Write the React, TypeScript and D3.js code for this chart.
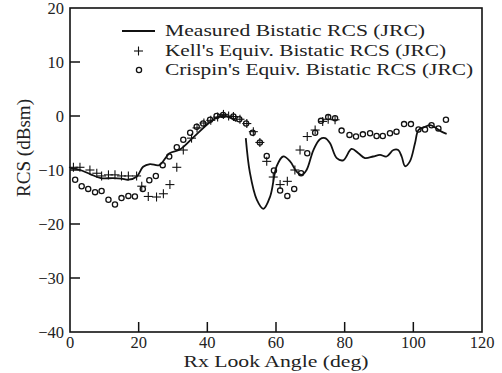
import React from "react";
import * as d3 from "d3";

const W = 502;
const H = 373;

// Measured Bistatic RCS (JRC) — null marks a gap in the trace
const measuredAngles = [0, 3, 6, 9, 12.5, 15, 17, 19.5, 21.3, 23.3, 26, 29, 32, 36, 40.8, 43, 44.6, 47, 48.5, null,
  51.2, 52.4, 54.4, 56.3, 58.3, 60.2, 62.1, 64.1, 66, 67.5, 68.9, 70.9, 72.8, 74.3, 75.7, 77.7, 79.6, 82, 84, 85.9,
  88.3, 90.3, 92.2, 94.2, 95.6, 96.6, 97.6, 99, 100.5, 101.5, 103.4, 104.9, 106.8, 108.2, 109.7];
const measuredValues = [-9.6, -10, -10.8, -11.5, -11.5, -11.6, -11.8, -11.2, -9.4, -8.9, -9.1, -6.9, -6.2, -3.9, -1.1, -0.2, 0, -0.4, -1.0, null,
  -4.1, -10.5, -15.5, -17.2, -14.9, -9.3, -7.5, -8.4, -10.3, -10.9, -10, -6.3, -4.3, -4.1, -5, -7.8, -8.2, -6.1, -6.9, -7.8,
  -7.5, -7.2, -7.5, -6.3, -6.3, -7.5, -9.3, -8.4, -5, -2.6, -2, -1.7, -2.3, -2.9, -3.3];

// Kell's Equiv. Bistatic RCS (JRC)
const kellAngles = [1, 2.9, 5.8, 7.8, 9.2, 11.2, 13.1, 15, 17, 19.4, 20.9, 22.8, 25.2, 27.2, 29.1, 31.1, 33, 35.4,
  37, 39, 41, 43, 44.7, 46.2, 47.6, 49.5, 51.5, 53.4, 55.3, 57.3, 59.2, 61.2, 63.3, 65.5, 67, 69.1, 71.4, 73.6, 75.2, 77.2];
const kellValues = [-9.5, -9.5, -10, -10.6, -11.1, -10.9, -10.9, -11.1, -11.1, -11.1, -13, -14.9, -15, -14.4, -12.7, -9.5, -6.3, -4.1,
  -2.2, -1.3, -0.8, -0.2, 0.3, 0, -0.1, -0.6, -1.4, -2.9, -4.9, -8.4, -11.3, -12.7, -12.1, -10, -6.3, -3.8, -2.6, -1, -0.6, -0.7];

// Crispin's Equiv. Bistatic RCS (JRC)
const crispinAngles = [1.5, 3.4, 5.3, 7.3, 9.2, 11.2, 13.1, 15, 17, 18.9, 21.2, 23.1, 25, 27, 28.9, 31.1, 33, 35, 36.9, 38.8,
  40.8, 42.7, 44.6, 47.6, 49.3, 51.3, 53.2, 55.3, 57.3, 59.4, 61.2, 63.3, 65.3, 67.3, 69.1, 71.4, 73.1, 75.2, 77.2, 79.1,
  81.4, 83.3, 85.3, 87.4, 89.3, 91.1, 93.2, 95.1, 97.3, 99.3, 101.5, 103.4, 105.3, 107.3, 109.5];
const crispinValues = [-11.8, -13, -13.5, -14.1, -13.9, -15.5, -16.4, -15.2, -14.8, -14.9, -13.5, -11.9, -11.1, -9.1, -7.5, -5.8, -4.4, -3.1, -2, -1.4,
  -0.7, 0, 0.2, -0.1, -0.6, -1.4, -3.1, -4.9, -7.4, -10.1, -13.8, -14.8, -13.5, -10.6, -6.9, -3.1, -0.9, -0.2, -0.4, -2.7,
  -3.5, -3.8, -3.4, -3.2, -3.7, -3.7, -3.2, -2.9, -1.5, -1.5, -2.5, -2.5, -1.7, -2.3, -0.7];

const xTicks = [0, 20, 40, 60, 80, 100, 120];
const yTicks = [-40, -30, -20, -10, 0, 10, 20];
const legendLabels = [
  "Measured Bistatic RCS  (JRC)",
  "Kell's Equiv. Bistatic RCS  (JRC)",
  "Crispin's Equiv. Bistatic RCS  (JRC)",
];

const FONT = "'Liberation Serif', 'DejaVu Serif', serif";

export default function App() {
  const m = { left: 70, right: 482, top: 8, bottom: 332 };
  const x = d3.scaleLinear().domain([0, 120]).range([m.left, m.right]);
  const y = d3.scaleLinear().domain([-40, 20]).range([m.bottom, m.top]);

  const measured = measuredAngles.map((a, i) => [a, measuredValues[i]] as [number | null, number | null]);
  const line = d3
    .line<[number | null, number | null]>()
    .defined((d) => d[0] !== null && d[1] !== null)
    .x((d) => x(d[0] as number))
    .y((d) => y(d[1] as number))
    .curve(d3.curveCatmullRom.alpha(0.5));

  const fmt = (v: number) => (v < 0 ? "\u2212" + Math.abs(v) : String(v));
  const tickLen = 10;
  const ps = 4.5;

  return (
    <svg width={W} height={H} style={{ position: "absolute", left: 0, top: 0, background: "#fff" }} fontFamily={FONT}>
      <rect x={0} y={0} width={W} height={H} fill="#fff" />
      {/* data */}
      <path d={line(measured) || ""} fill="none" stroke="#111" strokeWidth={1.8} />
      {kellAngles.map((a, i) => (
        <g key={"k" + i} stroke="#111" strokeWidth={1.1}>
          <line x1={x(a) - ps} x2={x(a) + ps} y1={y(kellValues[i])} y2={y(kellValues[i])} />
          <line x1={x(a)} x2={x(a)} y1={y(kellValues[i]) - ps} y2={y(kellValues[i]) + ps} />
        </g>
      ))}
      {crispinAngles.map((a, i) => (
        <circle key={"c" + i} cx={x(a)} cy={y(crispinValues[i])} r={2.6} fill="none" stroke="#111" strokeWidth={1.3} />
      ))}
      {/* frame */}
      <rect x={m.left} y={m.top} width={m.right - m.left} height={m.bottom - m.top} fill="none" stroke="#111" strokeWidth={1.6} />
      {xTicks.slice(1, -1).map((t) => (
        <line key={"xt" + t} x1={x(t)} x2={x(t)} y1={m.bottom} y2={m.bottom - tickLen} stroke="#111" strokeWidth={1.5} />
      ))}
      {yTicks.slice(1, -1).map((t) => (
        <line key={"yt" + t} x1={m.left} x2={m.left + tickLen} y1={y(t)} y2={y(t)} stroke="#111" strokeWidth={1.5} />
      ))}
      {xTicks.map((t) => (
        <text key={"xl" + t} x={x(t)} y={348} textAnchor="middle" fontSize={16.5} fill="#222">
          {t}
        </text>
      ))}
      {yTicks.map((t) => (
        <text key={"yl" + t} x={64} y={y(t) + 6} textAnchor="end" fontSize={16.5} fill="#222">
          {fmt(t)}
        </text>
      ))}
      <text x={276} y={367} textAnchor="middle" fontSize={17} fill="#222" textLength={185} lengthAdjust="spacingAndGlyphs">
        Rx  Look Angle (deg)
      </text>
      <text
        transform={`translate(30,${148}) rotate(-90)`}
        textAnchor="middle"
        fontSize={18}
        fill="#222"
        textLength={98}
        lengthAdjust="spacingAndGlyphs"
      >
        RCS  (dBsm)
      </text>
      {/* legend */}
      <line x1={122} x2={155} y1={31} y2={31} stroke="#111" strokeWidth={1.8} />
      <g stroke="#111" strokeWidth={1.1}>
        <line x1={138.5 - ps} x2={138.5 + ps} y1={51} y2={51} />
        <line x1={138.5} x2={138.5} y1={51 - ps} y2={51 + ps} />
      </g>
      <circle cx={139} cy={70} r={2.6} fill="none" stroke="#111" strokeWidth={1.3} />
      {legendLabels.map((s, i) => (
        <text
          key={s}
          x={165}
          y={36 + i * 19.5}
          fontSize={17}
          fill="#222"
          textLength={[260, 281, 308][i]}
          lengthAdjust="spacingAndGlyphs"
        >
          {s}
        </text>
      ))}
    </svg>
  );
}
